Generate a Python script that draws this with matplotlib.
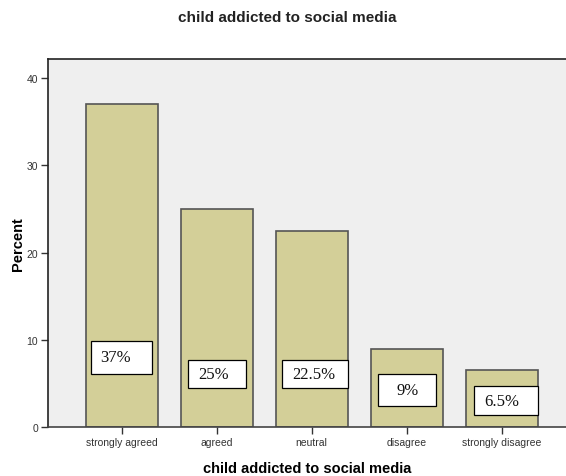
import matplotlib
matplotlib.use("Agg")
import matplotlib.pyplot as plt
from matplotlib.patches import Rectangle
import numpy as np

categories = ["strongly agreed", "agreed", "neutral", "disagree", "strongly disagree"]
percent = [37.0, 25.0, 22.5, 9.0, 6.5]
value_labels = ["37%", "25%", "22.5%", "9%", "6.5%"]
yticks = [0, 10, 20, 30, 40]

# value boxes: centre y, width, height (axis units) and horizontal offsets
box_y = [8.0, 6.1, 6.1, 4.2, 3.0]
box_w = [0.65, 0.61, 0.70, 0.61, 0.67]
box_h = [3.75, 3.15, 3.15, 3.65, 3.35]
box_dx = [0.0, 0.0, 0.035, 0.0, 0.045]
text_dx = [-0.06, -0.035, 0.025, 0.01, -0.005]

plt.rcParams["font.family"] = ["Liberation Sans", "DejaVu Sans"]

fig = plt.figure(figsize=(5.66, 4.77), dpi=100)
ax = fig.add_axes([48 / 566, 49 / 477, 1 - 48 / 566, 368 / 477])
ax.set_facecolor("#efefef")

x = np.arange(len(categories))
ax.bar(x, percent, width=0.757, color="#d3cf98", edgecolor="#555555",
       linewidth=1.2, zorder=2)

for xi, yi, w, h, bdx, tdx, lab in zip(x, box_y, box_w, box_h, box_dx,
                                       text_dx, value_labels):
    ax.add_patch(Rectangle((xi + bdx - w / 2, yi - h / 2), w, h,
                           facecolor="white", edgecolor="black",
                           linewidth=0.9, zorder=3))
    ax.text(xi + tdx, yi, lab, ha="center", va="center", fontsize=12,
            family=["Liberation Serif", "DejaVu Serif"], color="#111111",
            zorder=4)

ax.set_xlim(-0.773, 4.674)
ax.set_ylim(0, 42.2)
ax.set_xticks(x)
ax.set_xticklabels(categories, fontsize=7.5, color="#333333")
ax.set_yticks(yticks)
ax.set_yticklabels([str(t) for t in yticks], fontsize=7.5, color="#333333")
ax.tick_params(axis="both", direction="out", length=5, width=1,
               color="#333333", pad=2)

ax.spines["right"].set_visible(False)
ax.spines["top"].set_color("#222222")
ax.spines["left"].set_color("#222222")
ax.spines["bottom"].set_color("#444444")
for s in ax.spines.values():
    s.set_linewidth(1.2)

ax.set_ylabel("Percent", fontsize=10.5, fontweight="bold", labelpad=1.5)
ax.set_xlabel("child addicted to social media", fontsize=10.5,
              fontweight="bold", labelpad=10)
fig.text(287 / 566, 1 - 18 / 477, "child addicted to social media",
         ha="center", va="center", fontsize=11, fontweight="bold",
         color="#222222")

fig.savefig("out.png", dpi=100)
